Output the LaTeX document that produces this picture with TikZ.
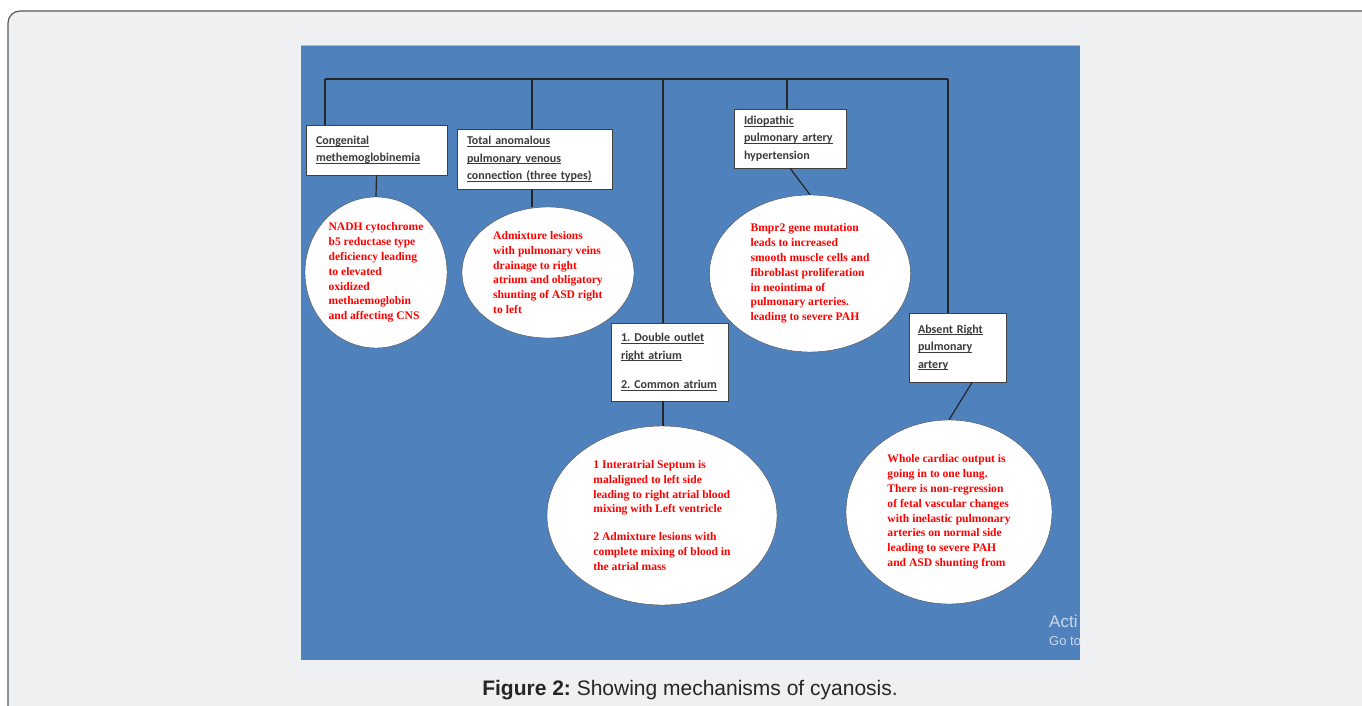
\documentclass[tikz,border=0pt]{standalone}
\usepackage{fontspec}
\setmainfont{Liberation Serif}
\newfontfamily\carlito{Carlito}
\newfontfamily\arial{Liberation Sans}
\usetikzlibrary{shapes.geometric}
\definecolor{panelblue}{HTML}{4F81BD}
\definecolor{pagegray}{HTML}{EFF0F2}
\definecolor{boxtext}{HTML}{3A3A3A}
\newlength\ulwd
\newcommand\ulx[1]{\leavevmode\settowidth\ulwd{#1}\rlap{\rule[-2.3pt]{\ulwd}{0.9pt}}#1}
\frenchspacing
\tikzset{
  cause/.style={draw=black!75, fill=white, text=boxtext, font=\carlito\bfseries\fontsize{12}{17.5}\selectfont,
    align=left, inner xsep=10pt, inner ysep=0pt},
  effect/.style={ellipse, draw=black!70, fill=white, text=red, font=\bfseries\fontsize{11.6}{14.8}\selectfont,
    align=left, inner sep=0pt},
  link/.style={draw=black!85, line width=1.2pt}
}
\begin{document}
\begin{tikzpicture}[x=1pt,y=-1pt]
      \useasboundingbox (0,0) rectangle (1362,706);
      \draw[rounded corners=12pt, draw=black!65, fill=pagegray, line width=1.2pt] (8,11) rectangle (1400,725);
      \fill[panelblue] (301,45) rectangle (1080,660);
      \draw[panelblue!55!white] (301,45.5) -- (1080,45.5);
      \begin{scope}
        \clip (301,45) rectangle (1080,660);
        \node[anchor=base west, inner sep=0pt, text=white!70!panelblue, font=\arial\fontsize{17}{17}\selectfont] (wmA) at (1049,627) {Acti};
        \node[anchor=base west, inner sep=0pt, text=white!70!panelblue, font=\arial\fontsize{13}{13}\selectfont] (wmB) at (1049,645) {Go to};
      \end{scope}
      % causes
      \node[cause, text width=121pt, minimum height=50pt] (cong) at (376.5,150) {\ulx{Congenital}\\ \ulx{methemoglobinemia}};
      \node[cause, text width=135pt, minimum height=60pt] (tapvc) at (534.5,159) {\ulx{Total anomalous}\\ \ulx{pulmonary venous}\\ \ulx{connection (three types)}};
      \node[cause, text width=92pt, minimum height=59pt] (ipah) at (790,138.5) {\ulx{Idiopathic}\\ \ulx{pulmonary artery}\\ hypertension};
      \node[cause, text width=97pt, minimum height=78pt] (dora) at (669.5,362) {\ulx{1. Double outlet}\\ \ulx{right atrium}\\[12pt] \ulx{2. Common atrium}};
      \node[cause, text width=79pt, inner xsep=9pt, minimum height=69pt] (arpa) at (957.5,347.5) {\ulx{Absent Right}\\ \ulx{pulmonary}\\ \ulx{artery}};
      % mechanisms
      \node[effect, minimum width=142pt, minimum height=151pt] (e1) at (376,272.5) {NADH cytochrome\\ b5 reductase type\\ deficiency leading\\ to elevated\\ oxidized\\ methaemoglobin\\ and affecting CNS};
      \node[effect, minimum width=172pt, minimum height=131pt] (e2) at (548,272.5) {Admixture lesions\\ with pulmonary veins\\ drainage to right\\ atrium and obligatory\\ shunting of ASD right\\ to left};
      \node[effect, minimum width=201pt, minimum height=157pt] (e3) at (810,273.5) {Bmpr2 gene mutation\\ leads to increased\\ smooth muscle cells and\\ fibroblast proliferation\\ in neointima of\\ pulmonary arteries.\\ leading to severe PAH};
      \node[effect, minimum width=230pt, minimum height=179pt] (e4) at (662,515.5) {1 Interatrial Septum is\\ malaligned to left side\\ leading to right atrial blood\\ mixing with Left ventricle\\[13pt] 2 Admixture lesions with\\ complete mixing of blood in\\ the atrial mass};
      \node[effect, minimum width=206pt, minimum height=184pt] (e5) at (949,512) {Whole cardiac output is\\ going in to one lung.\\ There is non-regression\\ of fetal vascular changes\\ with inelastic pulmonary\\ arteries on normal side\\ leading to severe PAH\\ and ASD shunting from};
      % tree
      \coordinate (b1) at (325,79);
      \coordinate (b2) at (532,79);
      \coordinate (b3) at (663,79);
      \coordinate (b4) at (787,79);
      \coordinate (b5) at (948,79);
      \draw[link] (b1) -- (b5);
      \foreach \b/\n in {b1/cong, b2/tapvc, b3/dora, b4/ipah, b5/arpa}
        \draw[link] (\b) -- (\b |- \n.north);
      \draw[link] (cong.south) -- (e1.north);
      \draw[link] (b2 |- tapvc.south) -- (b2 |- e2.north);
      \draw[link] (ipah.south) -- (e3.north);
      \draw[link] (b3 |- dora.south) -- (b3 |- e4.north);
      \draw[link] (arpa.-67) -- (e5.north);
      \node[anchor=base, inner sep=0pt, text=black!85, font=\arial\fontsize{21}{21}\selectfont] (caption) at (690,695)
        {\textbf{Figure 2:} Showing mechanisms of cyanosis.};
\end{tikzpicture}
\end{document}
